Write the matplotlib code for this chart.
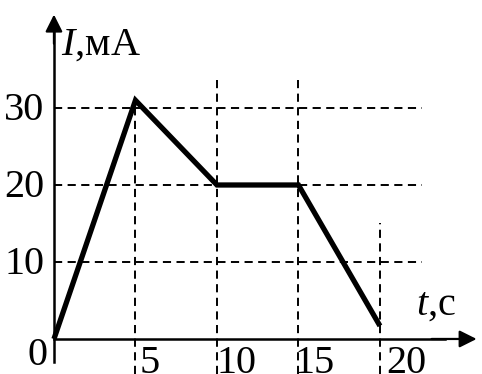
import matplotlib
matplotlib.use('Agg')
import matplotlib.pyplot as plt

# data
t_points = [0, 5, 10, 15, 20]
i_points = [0, 31, 20, 20, 1.7]

x_ticks = [5, 10, 15, 20]
y_ticks = [10, 20, 30]
x_tick_labels = ['5', '10', '15', '20']
y_tick_labels = ['10', '20', '30']

# how high each vertical guide line goes (in mA)
v_grid_top = [31, 33.8, 33.8, 15]

plt.rcParams['font.family'] = ['Liberation Serif', 'DejaVu Serif']
plt.rcParams['mathtext.fontset'] = 'custom'
plt.rcParams['mathtext.rm'] = 'Liberation Serif'
plt.rcParams['mathtext.it'] = 'Liberation Serif:italic'

fig = plt.figure(figsize=(4.82, 3.74), dpi=100)
ax = fig.add_axes([0, 0, 1, 1])
ax.set_xlim(-3.31, 26.26)
ax.set_ylim(-4.55, 44.03)
ax.axis('off')

dash = (0, (4.2, 2.8))

# horizontal guide lines
for y in y_ticks:
    ax.plot([0, 22.6], [y, y], color='black', lw=1.4, linestyle=dash, zorder=1)

# vertical guide lines
for x, top in zip(x_ticks, v_grid_top):
    ax.plot([x, x], [-4.6, top], color='black', lw=1.4, linestyle=dash, zorder=1)

# axes with arrows
ax.plot([0, 0], [-3.0, 40], color='black', lw=1.8, zorder=2)
ax.plot([0, 24], [0, 0], color='black', lw=1.8, zorder=2)
ax.annotate('', xy=(0, 42.5), xytext=(0, 38),
            arrowprops=dict(arrowstyle='-|>', lw=1.6, color='black', mutation_scale=26))
ax.annotate('', xy=(26.1, 0), xytext=(23, 0),
            arrowprops=dict(arrowstyle='-|>', lw=1.6, color='black', mutation_scale=26))

# the current curve
ax.plot(t_points, i_points, color='black', lw=3.8, solid_capstyle='butt',
        solid_joinstyle='miter', zorder=3)

fs = 29

# tick labels
for y, lab in zip(y_ticks, y_tick_labels):
    ax.text(-0.6, y - 1.6, lab, fontsize=fs, ha='right', va='baseline')
ax.text(-1.0, -3.4, '0', fontsize=fs, ha='center', va='baseline')
ax.text(5.25, -4.4, x_tick_labels[0], fontsize=fs, ha='left', va='baseline')
ax.text(11.2, -4.4, x_tick_labels[1], fontsize=fs, ha='center', va='baseline')
ax.text(16.0, -4.4, x_tick_labels[2], fontsize=fs, ha='center', va='baseline')
ax.text(20.4, -4.4, x_tick_labels[3], fontsize=fs, ha='left', va='baseline')

# axis names
ax.text(0.45, 36.9, '$I$,мА', fontsize=fs, ha='left', va='baseline')
ax.text(22.2, 3.1, '$t$,c', fontsize=fs, ha='left', va='baseline')

fig.savefig('out.png', dpi=100)
